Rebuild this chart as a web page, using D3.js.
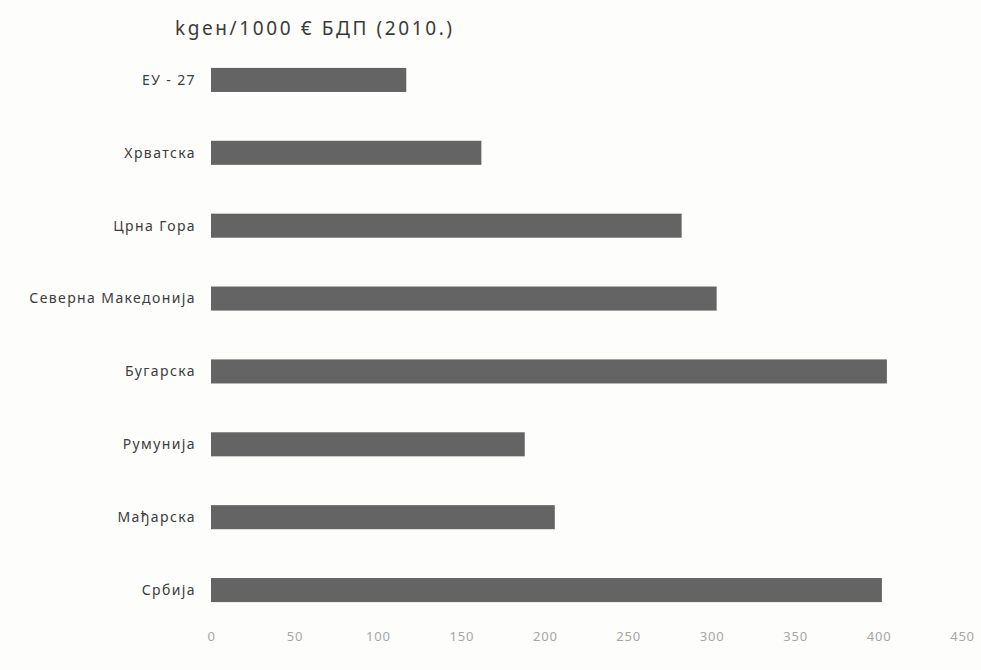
<!DOCTYPE html>
<html>
<head>
<meta charset="utf-8">
<script src="https://cdn.jsdelivr.net/npm/d3@7"></script>
<style>
  html, body { margin: 0; padding: 0; background: #fdfdfc; }
  svg { display: block; }
</style>
</head>
<body>
<svg id="chart" width="981" height="670"></svg>
<script>
const titleText = "kgeн/1000 € БДП (2010.)";
const categories = ["ЕУ - 27", "Хрватска", "Црна Гора", "Северна Македонија", "Бугарска", "Румунија", "Мађарска", "Србија"];
const values = [117, 162, 282, 303, 405, 188, 206, 402];
const tickValues = [0, 50, 100, 150, 200, 250, 300, 350, 400, 450];

const data = categories.map((c, i) => ({ category: c, value: values[i] }));

const svg = d3.select("#chart");
const font = "'Noto Sans', 'Open Sans', 'DejaVu Sans', sans-serif";

const x = d3.scaleLinear().domain([0, 450]).range([211, 962]);
const y = d3.scaleBand().domain(categories).range([43.5, 626.5])
  .paddingInner(0.67).paddingOuter(0.335);

// title
svg.append("text")
  .attr("x", 175).attr("y", 35)
  .attr("font-family", font)
  .attr("font-size", 19)
  .attr("letter-spacing", 2.6)
  .attr("fill", "#3a3a3a")
  .text(titleText);

// bars
svg.append("g").selectAll("rect")
  .data(data).join("rect")
  .attr("x", x(0))
  .attr("y", d => y(d.category))
  .attr("width", d => x(d.value) - x(0))
  .attr("height", y.bandwidth())
  .attr("fill", "#646464");

// category labels
svg.append("g").selectAll("text")
  .data(data).join("text")
  .attr("x", 196)
  .attr("y", d => y(d.category) + y.bandwidth() / 2)
  .attr("dy", "0.35em")
  .attr("text-anchor", "end")
  .attr("font-family", font)
  .attr("font-size", 14)
  .attr("letter-spacing", 1.4)
  .attr("fill", "#3c3c3c")
  .text(d => d.category);

// x axis (labels only)
const xAxis = d3.axisBottom(x).tickValues(tickValues).tickSize(0).tickPadding(0);
const gx = svg.append("g").attr("transform", "translate(0,632)").call(xAxis);
gx.select(".domain").remove();
gx.selectAll("text")
  .attr("font-family", font)
  .attr("font-size", 13)
  .attr("letter-spacing", 0.8)
  .attr("fill", "#a6a6a6");
</script>
</body>
</html>
